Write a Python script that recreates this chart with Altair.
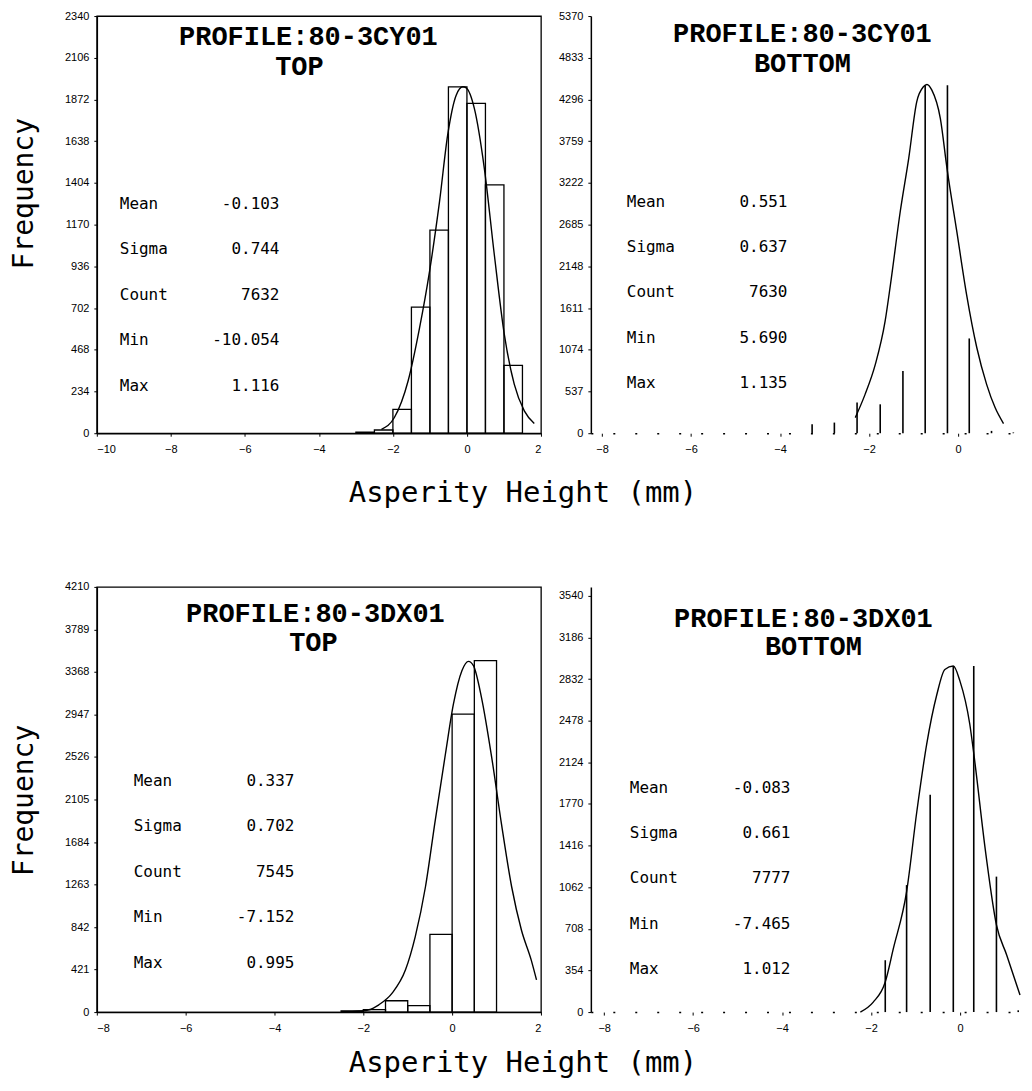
import altair as alt
import pandas as pd

# ---------------- values ----------------
stat_names = ["Mean", "Sigma", "Count", "Min", "Max"]
x_title = "Asperity Height (mm)"
y_title = "Frequency"

# Panel A: PROFILE:80-3CY01  TOP
a_title = ["PROFILE:80-3CY01", "TOP"]
a_bin_lo = [-3.0, -2.5, -2.0, -1.5, -1.0, -0.5, 0.0, 0.5, 1.0]
a_bin_hi = [-2.5, -2.0, -1.5, -1.0, -0.5, 0.0, 0.5, 1.0, 1.5]
a_counts = [6, 18, 134, 707, 1139, 1943, 1850, 1393, 380]
a_fit_x = [-2.31, -1.96, -1.59, -1.28, -1.01, -0.74, -0.52, -0.29, -0.11, -0.02,
           0.20, 0.47, 0.74, 1.01, 1.28, 1.55, 1.82]
a_fit_y = [22, 88, 293, 591, 908, 1300, 1673, 1896, 1943, 1937,
           1822, 1486, 1001, 554, 274, 125, 54]
a_xticks = [-10, -8, -6, -4, -2, 0, 2]
a_yticks = [0, 234, 468, 702, 936, 1170, 1404, 1638, 1872, 2106, 2340]
a_stats = ["-0.103", "0.744", "7632", "-10.054", "1.116"]

# Panel B: PROFILE:80-3CY01  BOTTOM (only the vertical bar edges survive in the scan)
b_title = ["PROFILE:80-3CY01", "BOTTOM"]
b_edge_x = [-3.28, -2.78, -2.27, -1.75, -1.24, -0.74, -0.24, 0.25, 0.75, 1.24]
b_edge_h = [115, 137, 394, 372, 800, 4480, 4480, 1220, 30, 10]
b_fit_x = [-2.31, -2.09, -1.86, -1.64, -1.52, -1.30, -1.11, -0.93, -0.78, -0.70,
           -0.59, -0.40, -0.25, -0.03, 0.19, 0.42, 0.64, 0.83, 1.02]
b_fit_y = [201, 500, 886, 1442, 1913, 2854, 3539, 4266, 4459, 4489,
           4416, 4052, 3410, 2597, 1784, 1100, 629, 330, 124]
b_xticks = [-8, -6, -4, -2, 0]
b_yticks = [0, 537, 1074, 1611, 2148, 2685, 3222, 3759, 4296, 4833, 5370]
b_stats = ["0.551", "0.637", "7630", "5.690", "1.135"]

# Panel C: PROFILE:80-3DX01  TOP
c_title = ["PROFILE:80-3DX01", "TOP"]
c_bin_lo = [-2.5, -2.0, -1.5, -1.0, -0.5, 0.0, 0.5]
c_bin_hi = [-2.0, -1.5, -1.0, -0.5, 0.0, 0.5, 1.0]
c_counts = [12, 25, 112, 63, 770, 2950, 3480]
c_fit_x = [-2.25, -1.87, -1.65, -1.35, -1.05, -0.83, -0.60, -0.38, -0.15, 0.03,
           0.22, 0.37, 0.48, 0.66, 0.89, 1.11, 1.34, 1.56, 1.78, 1.90]
c_fit_y = [3, 23, 72, 188, 418, 747, 1241, 1899, 2558, 3051,
           3380, 3473, 3430, 3117, 2525, 1866, 1241, 813, 517, 319]
c_xticks = [-8, -6, -4, -2, 0, 2]
c_yticks = [0, 421, 842, 1263, 1684, 2105, 2526, 2947, 3368, 3789, 4210]
c_stats = ["0.337", "0.702", "7545", "-7.152", "0.995"]

# Panel D: PROFILE:80-3DX01  BOTTOM
d_title = ["PROFILE:80-3DX01", "BOTTOM"]
d_edge_x = [-1.68, -1.20, -0.67, -0.15, 0.31, 0.82, 1.31]
d_edge_h = [441, 1080, 1848, 2943, 2943, 1152, 15]
d_fit_x = [-2.24, -1.95, -1.68, -1.50, -1.20, -0.97, -0.75, -0.52, -0.34, -0.15,
           0.00, 0.22, 0.31, 0.58, 0.82, 1.05, 1.35]
d_fit_y = [0, 85, 256, 537, 1024, 1706, 2275, 2701, 2914, 2943,
           2815, 2450, 2200, 1350, 742, 486, 145]
d_xticks = [-8, -6, -4, -2, 0]
d_yticks = [0, 354, 708, 1062, 1416, 1770, 2124, 2478, 2832, 3186, 3540]
d_stats = ["-0.083", "0.661", "7777", "-7.465", "1.012"]

TITLE_FONT = "Liberation Mono"
TEXT_FONT = "DejaVu Sans Mono"
ONE = alt.Data(values=[{}])


def text_layer(txt, x, y, size, font=TEXT_FONT, weight="normal", align="center",
               baseline="middle", angle=0, line_height=None):
    kw = dict(font=font, fontSize=size, fontWeight=weight, align=align,
              baseline=baseline, color="black", angle=angle)
    if line_height is not None:
        kw["lineHeight"] = line_height
    return alt.Chart(ONE).mark_text(**kw).encode(
        x=alt.value(x), y=alt.value(y), text=alt.value(txt))


def panel(side, hist, fit, xdom, xticks, ydom, yticks, width, height,
          titles, title_pos, stats, stat_pos, first_col):
    xs = alt.Scale(domain=xdom, nice=False, zero=False)
    ys = alt.Scale(domain=ydom, nice=False, zero=False)
    common = dict(title=None, format="d", labelPadding=5, tickSize=3, grid=False,
                  labelFont="Liberation Sans", labelFontSize=11, labelColor="black",
                  tickColor="black", domainColor="black", domainWidth=1.5)
    xaxis_kw = dict(common, values=xticks, labelPadding=7)
    if side == "right":
        xaxis_kw["domainDash"] = [2, 20]
    xa = alt.Axis(**xaxis_kw)
    ya = alt.Axis(**dict(common, values=yticks))
    X = alt.X("x:Q", scale=xs, axis=xa)
    Y = alt.Y("y:Q", scale=ys, axis=ya)

    layers = []
    if side == "left":
        layers.append(alt.Chart(hist).mark_bar(fill="white", fillOpacity=0,
                                               stroke="black", strokeWidth=1.3)
                      .encode(x=X, x2="x2:Q", y=Y, y2=alt.datum(0)))
    else:
        layers.append(alt.Chart(hist).mark_rule(color="black", strokeWidth=1.6)
                      .encode(x=X, y=Y, y2=alt.datum(0)))
    layers.append(alt.Chart(fit).mark_line(color="black", strokeWidth=1.4,
                                           interpolate="monotone")
                  .encode(x=X, y=Y))
    (t1x, t1y), (t2x, t2y) = title_pos
    layers.append(text_layer(titles[0], t1x, t1y, 27, font=TITLE_FONT, weight="bold"))
    layers.append(text_layer(titles[1], t2x, t2y, 27, font=TITLE_FONT, weight="bold"))
    lx, rx, by, lh = stat_pos
    layers.append(text_layer(stat_names, lx, by, 16, align="left",
                             baseline="alphabetic", line_height=lh))
    layers.append(text_layer(stats, rx, by, 16, align="right",
                             baseline="alphabetic", line_height=lh))
    if first_col:
        layers.append(text_layer(y_title, -72, first_col[0], 28, angle=270))
        layers.append(text_layer(x_title, 427, height + first_col[1], 29))
    kw = dict(width=width, height=height)
    if side == "left":
        kw["view"] = alt.ViewBackground(stroke="black", strokeWidth=1.3)
    return alt.layer(*layers).properties(**kw)


a_hist = pd.DataFrame({"x": a_bin_lo, "x2": a_bin_hi, "y": a_counts})
a_fit = pd.DataFrame({"x": a_fit_x, "y": a_fit_y})
b_hist = pd.DataFrame({"x": b_edge_x, "y": b_edge_h})
b_fit = pd.DataFrame({"x": b_fit_x, "y": b_fit_y})
c_hist = pd.DataFrame({"x": c_bin_lo, "x2": c_bin_hi, "y": c_counts})
c_fit = pd.DataFrame({"x": c_fit_x, "y": c_fit_y})
d_hist = pd.DataFrame({"x": d_edge_x, "y": d_edge_h})
d_fit = pd.DataFrame({"x": d_fit_x, "y": d_fit_y})

pA = panel("left", a_hist, a_fit, [-10, 2], a_xticks, [0, 2340], a_yticks, 445, 418,
           a_title, [(212, 21), (203, 51)], a_stats, (23, 183, 193, 45.7), (178, 60))
pB = panel("right", b_hist, b_fit, [-8.25, 1.39], b_xticks, [0, 5370], b_yticks, 430, 418,
           b_title, [(212, 18), (212, 48)], b_stats, (36, 197, 191, 45.5), None)
pC = panel("left", c_hist, c_fit, [-8, 2], c_xticks, [0, 4210], c_yticks, 445, 426,
           c_title, [(219, 27), (217, 56)], c_stats, (37, 198, 199, 45.75), (214, 51))
pD = panel("right", d_hist, d_fit, [-8.3, 1.35], d_xticks, [0, 3616], d_yticks, 430, 426,
           d_title, [(213, 32), (223, 60)], d_stats, (39, 200, 206, 45.5), None)

chart = alt.concat(pA, pB, pC, pD, columns=2, spacing={"row": 154, "column": 50},
                   bounds="flush", align="each").properties(
    padding={"left": 2, "top": 0, "right": 0, "bottom": 0},
    background="white",
).configure_view(stroke="transparent")

chart.save("out.html", embed_options={"renderer": "svg", "actions": False})
